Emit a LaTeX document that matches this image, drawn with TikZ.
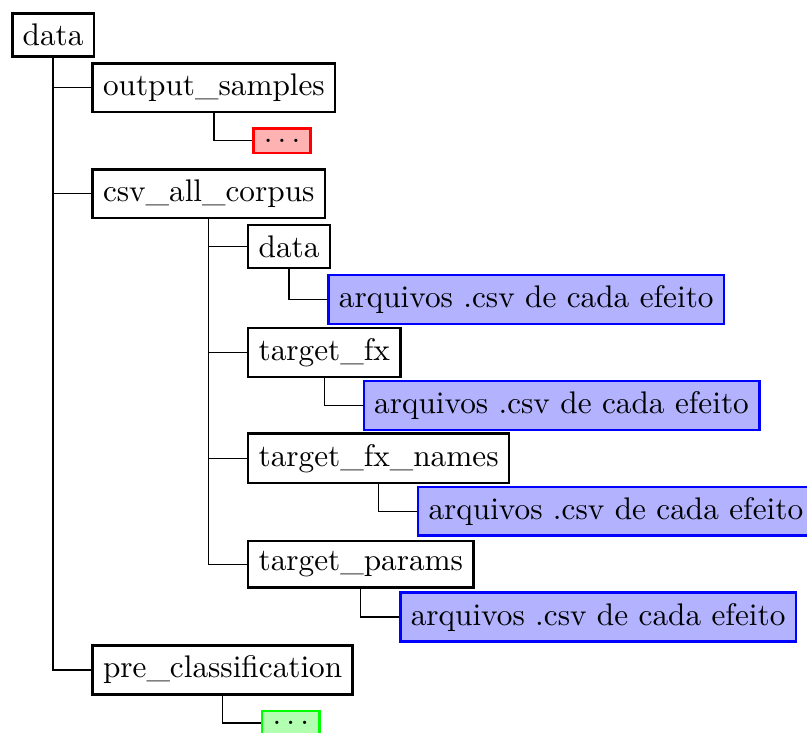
\documentclass[tikz,border=0pt]{standalone}
\usepackage{tikz}
\usetikzlibrary{calc,positioning}

\tikzset{
  folder/.style={draw, thick, anchor=west},
  samplefiles/.style={draw=red, fill=red!30, thick, anchor=west},
  csvfiles/.style={draw=blue, fill=blue!30, thick, anchor=west},
  preclassfiles/.style={draw=green, fill=green!30, thick, anchor=west},
}

\begin{document}
\begin{tikzpicture}
  \clip (-0.124,0.393) rectangle (8.949,-7.847);
  \node[folder] (root) at (0,0) {data};
  % level 1
  \node[folder] (outsamples) at ([xshift=4.3mm]root.south |- 0,-0.595) {output\_samples};
  \node[samplefiles] (outdots) at ([xshift=4.3mm]outsamples.south |- 0,-1.19) {$\ldots$};
  \node[folder] (csvcorpus) at ([xshift=4.3mm]root.south |- 0,-1.785) {csv\_all\_corpus};
  % csv_all_corpus
  \node[folder] (csvdata) at ([xshift=4.3mm]csvcorpus.south |- 0,-2.38) {data};
  \node[csvfiles] (datafiles) at ([xshift=4.3mm]csvdata.south |- 0,-2.975) {arquivos .csv de cada efeito};
  \node[folder] (targetfx) at ([xshift=4.3mm]csvcorpus.south |- 0,-3.57) {target\_fx};
  \node[csvfiles] (fxfiles) at ([xshift=4.3mm]targetfx.south |- 0,-4.165) {arquivos .csv de cada efeito};
  \node[folder] (fxnames) at ([xshift=4.3mm]csvcorpus.south |- 0,-4.76) {target\_fx\_names};
  \node[csvfiles] (namesfiles) at ([xshift=4.3mm]fxnames.south |- 0,-5.355) {arquivos .csv de cada efeito};
  \node[folder] (params) at ([xshift=4.3mm]csvcorpus.south |- 0,-5.95) {target\_params};
  \node[csvfiles] (paramsfiles) at ([xshift=4.3mm]params.south |- 0,-6.545) {arquivos .csv de cada efeito};
  \node[folder] (preclass) at ([xshift=4.3mm]root.south |- 0,-7.14) {pre\_classification};
  \node[preclassfiles] (predots) at ([xshift=4.3mm]preclass.south |- 0,-7.735) {$\ldots$};

  \draw (root.south) |- (outsamples.west);
  \draw (root.south) |- (csvcorpus.west);
  \draw (root.south) |- (preclass.west);
  \draw (outsamples.south) |- (outdots.west);
  \draw (csvcorpus.south) |- (csvdata.west);
  \draw (csvcorpus.south) |- (targetfx.west);
  \draw (csvcorpus.south) |- (fxnames.west);
  \draw (csvcorpus.south) |- (params.west);
  \draw (csvdata.south) |- (datafiles.west);
  \draw (targetfx.south) |- (fxfiles.west);
  \draw (fxnames.south) |- (namesfiles.west);
  \draw (params.south) |- (paramsfiles.west);
  \draw (preclass.south) |- (predots.west);
\end{tikzpicture}
\end{document}
